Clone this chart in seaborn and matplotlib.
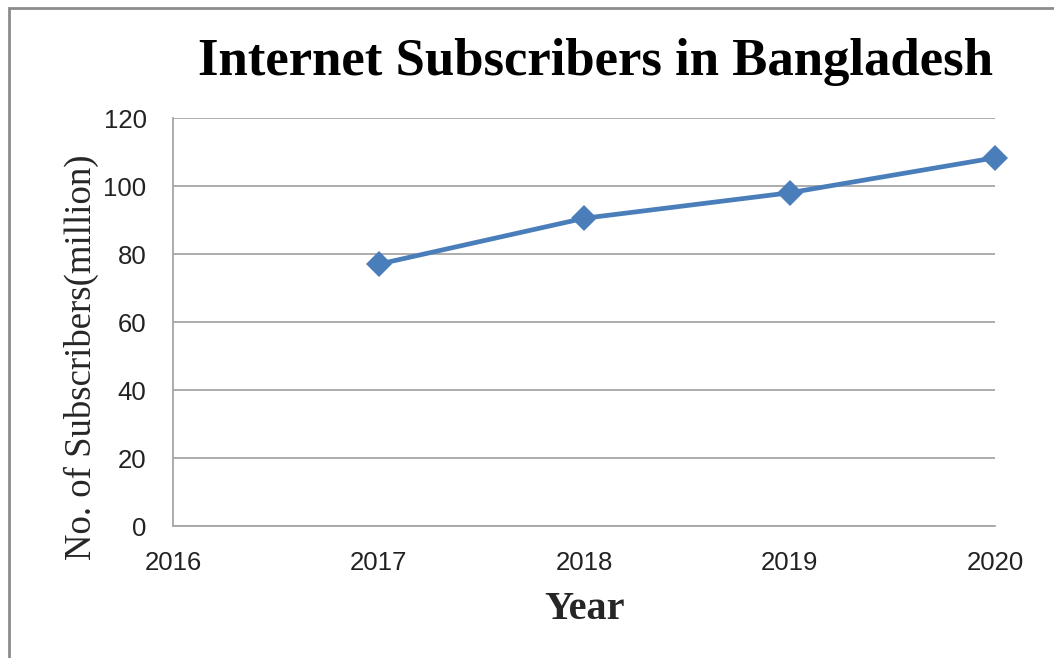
import matplotlib
matplotlib.use("Agg")
import matplotlib.pyplot as plt
from matplotlib.patches import Rectangle
import seaborn as sns
import pandas as pd

years = [2017, 2018, 2019, 2020]
subscribers = [77, 90.5, 98, 108.3]
x_ticks = [2016, 2017, 2018, 2019, 2020]
y_ticks = [0, 20, 40, 60, 80, 100, 120]

df = pd.DataFrame({"Year": years, "Subscribers": subscribers})

sns.set_theme(style="white")
plt.rcParams["font.family"] = ["Liberation Sans", "DejaVu Sans"]

fig = plt.figure(figsize=(10.54, 6.58), dpi=100)
ax = fig.add_axes([173 / 1054, 1 - 526 / 658, (995 - 173) / 1054, (526 - 118) / 658])

sns.lineplot(data=df, x="Year", y="Subscribers", ax=ax, color="#4a7ebb",
             linewidth=3.4, marker="D", markersize=13.5, markeredgewidth=0,
             markeredgecolor="#4a7ebb", clip_on=False)

ax.set_xlim(2016, 2020)
ax.set_ylim(0, 120)
ax.set_xticks(x_ticks)
ax.set_yticks(y_ticks)
ax.set_xticklabels([str(t) for t in x_ticks], fontsize=18.5, color="#222222")
ax.set_yticklabels([str(t) for t in y_ticks], fontsize=18.5, color="#222222")
ax.tick_params(axis="both", length=0)
ax.tick_params(axis="x", pad=18)
ax.tick_params(axis="y", pad=19)

ax.yaxis.grid(True, color="#a6a6a6", linewidth=1.3)
ax.xaxis.grid(False)
ax.set_axisbelow(True)
for side in ["top", "right"]:
    ax.spines[side].set_visible(False)
for side in ["left", "bottom"]:
    ax.spines[side].set_color("#a6a6a6")
    ax.spines[side].set_linewidth(1.3)

ax.set_xlabel("Year", fontsize=29, fontweight="bold",
              family=["Liberation Serif", "DejaVu Serif"], va="center")
ax.xaxis.set_label_coords(0.501, -0.205)
ax.set_ylabel("No. of Subscribers(million)", fontsize=26.5,
              family=["Liberation Serif", "DejaVu Serif"], va="center")
ax.yaxis.set_label_coords(-0.111, 0.414)

fig.text(596 / 1054, 1 - 62 / 658, "Internet Subscribers in Bangladesh",
         ha="center", va="center", fontsize=38, fontweight="bold",
         family=["Liberation Serif", "DejaVu Serif"], color="black")

# chart frame
fig.patches.append(Rectangle((9 / 1054, -0.1), 1.2, 1 - 8 / 658 + 0.1,
                             transform=fig.transFigure, fill=False,
                             edgecolor="#8c8c8c", linewidth=2))

fig.savefig("out.png", dpi=100)
